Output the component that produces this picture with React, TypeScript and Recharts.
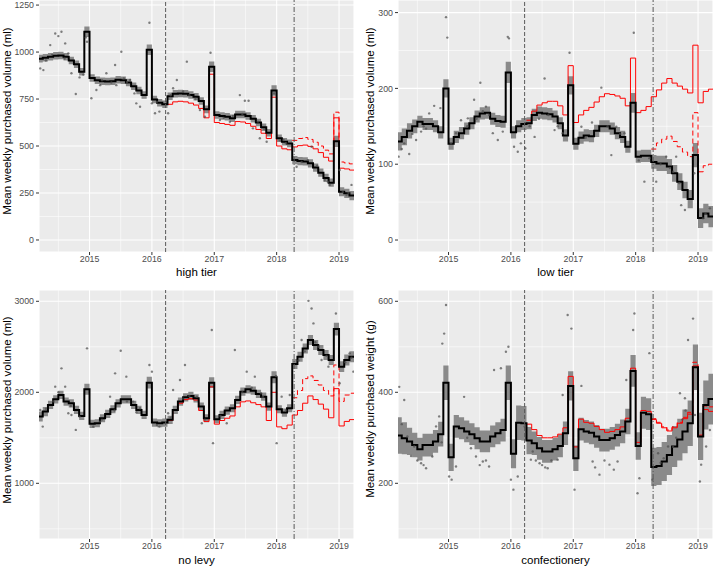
import React from 'react';
import { ComposedChart, Line, Area, Scatter, XAxis, YAxis, CartesianGrid, ReferenceLine } from 'recharts';

// ---- time axis (monthly periods, Mar 2014 .. Mar 2019) ----
const monthStarts: number[] = Array.from({ length: 61 }, (_, i) => 2014 + (2 + i) / 12);
const xEnd = 2019.25;
const xDomain: [number, number] = [2014.19, 2019.24];
const announcement = 2016.22;
const implementation = 2018.28;
const yearTicks = [2015, 2016, 2017, 2018, 2019];
const yearMinor = [2014.5, 2015.5, 2016.5, 2017.5, 2018.5];

const nulls = (n: number) => Array(n).fill(null);

// ---- high tier ----
const highFit = [965, 970, 975, 980, 982, 975, 955, 935, 895, 1108,
  862, 850, 845, 843, 845, 852, 850, 838, 818, 795, 772, 1012,
  748, 730, 722, 765, 778, 780, 778, 772, 762, 740, 695, 922,
  665, 660, 656, 648, 668, 668, 660, 645, 625, 600, 570, 795,
  541, 523, 514, 425, 420, 418, 408, 385, 358, 330, 305, 525,
  257, 248, 236];
const highSe = [20, 20, 20, 20, 20, 20, 20, 20, 20, 28,
  20, 20, 20, 20, 20, 20, 20, 20, 20, 20, 20, 28,
  20, 20, 20, 20, 20, 20, 20, 20, 20, 20, 20, 28,
  20, 20, 20, 20, 20, 20, 20, 20, 20, 20, 20, 28,
  20, 20, 20, 22, 22, 22, 22, 22, 22, 22, 22, 30,
  24, 24, 24];
const highCf = [...nulls(25), 722, 735, 738, 735, 728, 718, 700, 650, 882,
  625, 620, 615, 610, 630, 628, 620, 605, 588, 568, 540, 760,
  500, 485, 480, 495, 502, 505, 498, 485, 465, 440, 420, 650,
  382, 378, 372];
const highCf2 = [...nulls(49), 530, 540, 545, 535, 520, 500, 478, 458, 680, 415, 410, 405];
const highDots = [[2014.21, 913], [2014.26, 904], [2014.37, 1037], [2014.45, 1099], [2014.5, 1085], [2014.55, 1108],
  [2014.61, 1046], [2014.66, 993], [2014.71, 887], [2014.78, 777], [2014.84, 865], [2014.94, 1078], [2014.96, 1055],
  [2015.03, 754], [2015.11, 798], [2015.17, 824], [2015.27, 887], [2015.41, 931], [2015.43, 824], [2015.51, 1002],
  [2015.65, 851], [2015.72, 780], [2015.75, 727], [2015.81, 709], [2015.96, 1156], [2016.0, 727], [2016.05, 674],
  [2016.12, 683], [2016.26, 674], [2016.34, 807], [2016.4, 851], [2016.56, 949], [2016.77, 691], [2016.85, 656],
  [2016.94, 996], [2017.09, 638], [2017.25, 629], [2017.41, 771], [2017.49, 741], [2017.55, 741], [2017.62, 594],
  [2017.73, 541], [2017.84, 523], [2017.96, 780], [2018.11, 532], [2018.32, 390], [2018.56, 496], [2018.77, 319],
  [2018.85, 293], [2019.01, 372], [2019.12, 239], [2019.2, 293],
  [2014.3, 955], [2014.4, 985], [2014.6, 965], [2014.9, 880], [2015.2, 850], [2015.35, 838], [2015.55, 860],
  [2015.6, 840], [2016.08, 735], [2016.3, 770], [2016.5, 790], [2016.6, 770], [2016.7, 750], [2017.15, 650],
  [2017.3, 660], [2017.45, 670], [2017.7, 630], [2017.8, 590], [2018.05, 530], [2018.15, 515], [2018.4, 415],
  [2018.5, 425], [2018.65, 395], [2018.82, 310], [2019.15, 250], [2019.06, 255]];

// ---- low tier ----
const lowFit = [130, 136, 144, 150, 156, 153, 153, 150, 142, 200,
  127, 136, 141, 147, 154, 163, 167, 168, 160, 157, 156, 221,
  142, 150, 153, 154, 165, 168, 167, 166, 163, 154, 138, 204,
  127, 135, 138, 137, 144, 150, 150, 147, 141, 136, 123, 181,
  110, 111, 111, 103, 101, 101, 97, 88, 77, 66, 54, 112,
  29, 35, 31];
const lowSe = [12, 11, 10, 9, 8, 8, 8, 8, 8, 12,
  8, 8, 8, 8, 8, 8, 8, 8, 8, 8, 8, 14,
  8, 8, 8, 8, 8, 8, 8, 8, 8, 8, 8, 12,
  8, 8, 8, 8, 8, 8, 8, 8, 8, 8, 8, 13,
  8, 8, 8, 9, 10, 10, 10, 11, 11, 11, 12, 16,
  13, 13, 14];
const lowCf = [...nulls(25), 158, 170, 178, 181, 183, 183, 177, 165, 230,
  155, 165, 171, 175, 182, 189, 193, 192, 190, 187, 177, 240,
  168, 171, 176, 189, 198, 207, 213, 207, 203, 199, 194, 257,
  181, 196, 199];
const lowCf2 = [...nulls(49), 120, 128, 133, 137, 130, 123, 116, 110, 168, 90, 98, 100];
const lowDots = [[2014.2, 110], [2014.29, 127.5], [2014.37, 113.5], [2014.48, 132], [2014.56, 143], [2014.64, 147],
  [2014.69, 167], [2014.77, 177], [2014.87, 174], [2014.96, 294], [2014.98, 267], [2015.04, 127.5], [2015.12, 141],
  [2015.2, 158], [2015.31, 160.5], [2015.41, 185], [2015.51, 207.5], [2015.6, 176], [2015.71, 141], [2015.79, 132],
  [2015.87, 143], [2015.95, 268], [2015.97, 266], [2016.05, 123], [2016.11, 116.5], [2016.16, 127.5], [2016.23, 121],
  [2016.38, 136], [2016.54, 213], [2016.7, 145], [2016.83, 141], [2016.94, 247], [2017.13, 149.5], [2017.3, 155],
  [2017.45, 201], [2017.61, 112], [2017.69, 149.5], [2017.82, 141], [2017.97, 273.5], [2018.14, 77], [2018.22, 108],
  [2018.33, 77], [2018.49, 110], [2018.65, 110], [2018.73, 46], [2018.79, 39.6], [2018.94, 88], [2019.08, 28.6],
  [2019.19, 41.8],
  [2014.25, 120], [2014.42, 140], [2014.6, 150], [2015.3, 150], [2015.45, 160], [2015.55, 170], [2015.65, 165],
  [2016.3, 150], [2016.45, 160], [2016.6, 165], [2016.75, 150], [2017.2, 135], [2017.55, 150], [2017.75, 140],
  [2018.05, 105], [2018.4, 100], [2018.55, 95], [2018.6, 90], [2018.7, 75], [2019.12, 35]];

// ---- no levy ----
const noFit = [1733, 1788, 1861, 1923, 1971, 1898, 1879, 1806, 1740, 2033,
  1653, 1660, 1715, 1762, 1814, 1879, 1923, 1923, 1861, 1806, 1751, 2106,
  1667, 1660, 1667, 1697, 1806, 1898, 1945, 1960, 1934, 1843, 1715, 2106,
  1704, 1751, 1799, 1825, 1916, 2007, 2033, 2018, 1982, 1952, 1843, 2165,
  1814, 1777, 1825, 2311, 2391, 2482, 2574, 2519, 2464, 2410, 2355, 2695,
  2282, 2355, 2391];
const noSe = [55, 50, 45, 45, 45, 45, 45, 45, 45, 60,
  45, 45, 45, 45, 45, 45, 45, 45, 45, 45, 45, 65,
  45, 45, 45, 45, 45, 45, 45, 45, 45, 45, 45, 60,
  45, 45, 45, 45, 45, 45, 45, 45, 45, 45, 45, 65,
  45, 45, 45, 55, 55, 55, 55, 55, 55, 55, 55, 70,
  60, 60, 60];
const noCf = [...nulls(25), 1690, 1800, 1880, 1920, 1930, 1915, 1800, 1680, 2060,
  1650, 1690, 1715, 1740, 1840, 1895, 1905, 1885, 1865, 1840, 1690, 2000,
  1620, 1600, 1640, 1750, 1800, 1880, 1960, 1920, 1870, 1815, 1720, 2040,
  1630, 1680, 1700];
const noCf2 = [...nulls(49), 1940, 2020, 2150, 2180, 2130, 2080, 2020, 1960, 2300, 1900, 1970, 1990];
const noDots = [[2014.21, 1806], [2014.25, 1623], [2014.45, 2062], [2014.55, 2263], [2014.61, 2062], [2014.66, 1770],
  [2014.71, 1751], [2014.78, 1587], [2014.84, 1733], [2014.96, 2483], [2015.06, 1623], [2015.17, 1678], [2015.33, 1952],
  [2015.41, 2208], [2015.5, 2457], [2015.59, 2172], [2015.7, 1898], [2015.81, 1825], [2015.96, 2300], [2016.0, 2227],
  [2016.12, 1623], [2016.26, 1770], [2016.34, 2026], [2016.45, 2135], [2016.53, 2300], [2016.72, 1952], [2016.8, 1660],
  [2016.96, 2684], [2016.98, 1441], [2017.2, 1660], [2017.33, 2464], [2017.52, 2227], [2017.65, 2172], [2017.78, 1952],
  [2017.99, 2179], [2018.0, 1441], [2018.08, 1952], [2018.21, 1971], [2018.4, 2574], [2018.51, 3005], [2018.56, 2921],
  [2018.59, 2757], [2018.67, 2501], [2018.72, 2355], [2018.83, 2282], [2018.95, 2866], [2019.01, 2099], [2019.17, 2428],
  [2019.23, 2227],
  [2014.3, 1820], [2014.42, 1900], [2014.5, 2000], [2014.7, 1850], [2015.2, 1700], [2015.4, 1800], [2015.6, 1900],
  [2015.75, 1780], [2016.08, 1640], [2016.3, 1720], [2016.5, 1930], [2016.6, 1960], [2016.85, 1700], [2017.1, 1740],
  [2017.45, 2000], [2017.6, 2050], [2017.75, 1990], [2018.15, 1800], [2018.35, 2350], [2018.45, 2450], [2018.62, 2550],
  [2018.8, 2400], [2019.1, 2330], [2019.2, 2380]];

// ---- confectionery ----
const confFit = [305, 299, 292, 284, 275, 284, 284, 292, 308, 421,
  257, 325, 321, 314, 308, 299, 292, 292, 303, 310, 317, 421,
  265, 333, 332, 294, 288, 277, 270, 270, 275, 282, 310, 414,
  255, 319, 314, 311, 303, 295, 295, 299, 306, 314, 336, 447,
  282, 355, 352, 236, 238, 248, 262, 281, 296, 314, 332, 455,
  303, 372, 385];
const confSe = [40, 35, 30, 27, 25, 25, 25, 25, 27, 38,
  30, 25, 24, 24, 24, 24, 24, 24, 24, 24, 25, 38,
  32, 38, 38, 30, 26, 25, 25, 25, 25, 25, 26, 32,
  28, 25, 25, 25, 25, 25, 25, 25, 25, 26, 28, 35,
  30, 35, 35, 42, 42, 43, 44, 45, 46, 48, 50, 50,
  52, 54, 56];
const confCf = [...nulls(25), 330, 318, 305, 300, 300, 302, 308, 322, 435,
  280, 341, 334, 332, 325, 318, 312, 314, 318, 324, 343, 453,
  290, 360, 358, 340, 332, 322, 315, 322, 332, 342, 352, 458,
  303, 362, 358];
const confCf2 = [...nulls(49), 342, 334, 324, 317, 324, 334, 345, 356, 466, 306, 370, 368];
const confDots = [[2014.21, 412], [2014.29, 383], [2014.34, 303], [2014.45, 281], [2014.56, 244], [2014.64, 233],
  [2014.74, 259], [2014.8, 325], [2014.85, 347], [2014.89, 290], [2014.9, 507], [2014.93, 529], [2014.96, 592],
  [2015.01, 215], [2015.05, 208], [2015.12, 237], [2015.25, 390], [2015.36, 277], [2015.44, 259], [2015.55, 248],
  [2015.65, 237], [2015.73, 449], [2015.84, 453], [2015.92, 489], [2015.96, 500], [2016.0, 208], [2016.04, 186],
  [2016.11, 215], [2016.22, 325], [2016.32, 252], [2016.46, 244], [2016.59, 233], [2016.75, 252], [2016.83, 394],
  [2016.91, 570], [2016.97, 540], [2017.02, 186], [2017.13, 414], [2017.31, 248], [2017.42, 219], [2017.58, 241],
  [2017.71, 248], [2017.85, 427], [2017.96, 537], [2017.98, 573], [2018.03, 178], [2018.06, 211], [2018.22, 486],
  [2018.27, 208], [2018.36, 266], [2018.52, 281], [2018.71, 398], [2018.79, 387], [2018.84, 515], [2018.92, 562],
  [2018.95, 350], [2019.03, 204], [2019.05, 241], [2019.13, 281], [2019.19, 317],
  [2014.25, 330], [2014.4, 260], [2014.5, 250], [2014.6, 240], [2015.3, 300], [2015.5, 240], [2015.6, 250],
  [2016.35, 270], [2016.4, 250], [2016.5, 240], [2016.55, 235], [2016.65, 250], [2017.35, 235], [2017.5, 250],
  [2017.65, 230], [2018.4, 245], [2018.45, 255], [2018.6, 280], [2018.65, 300], [2018.75, 340], [2018.8, 360]];

// ---- axis ticks ----
const highTicks = [0, 250, 500, 750, 1000, 1250];
const highMinor = [125, 375, 625, 875, 1125];
const lowTicks = [0, 100, 200, 300];
const lowMinor = [50, 150, 250];
const noTicks = [1000, 2000, 3000];
const noMinor = [500, 1500, 2500];
const confTicks = [200, 400, 600];
const confMinor = [100, 300, 500];

const FONT = '"Liberation Sans", Arial, Helvetica, sans-serif';

function buildRows(fit: number[], se: number[], cf: (number | null)[], cf2: (number | null)[]) {
  const rows: any[] = monthStarts.map((x, i) => ({
    x,
    fit: fit[i],
    band: [fit[i] - se[i], fit[i] + se[i]],
    cf: cf[i],
    cf2: cf2[i],
  }));
  rows.push({ ...rows[rows.length - 1], x: xEnd });
  return rows;
}

const Dot = (p: any) => (
  <circle cx={p.cx} cy={p.cy} r={1.2} fill="#4D4D4D" fillOpacity={0.7} />
);

type PanelProps = {
  left: number; top: number; width: number; height: number; yAxisWidth: number;
  yDomain: [number, number]; yTicks: number[]; yMinor: number[];
  fit: number[]; se: number[]; cf: (number | null)[]; cf2: (number | null)[];
  dots: number[][];
};

function Panel(p: PanelProps) {
  const rows = buildRows(p.fit, p.se, p.cf, p.cf2);
  const dots = p.dots.map(([x, y]) => ({ x, y }));
  const tickStyle = { fontSize: 8.8, fill: '#4D4D4D', fontFamily: FONT };
  return (
    <div style={{ position: 'absolute', left: p.left, top: p.top }}>
      <ComposedChart width={p.width} height={p.height} data={rows} margin={{ top: 0, right: 0, bottom: 0, left: 0 }}>
        <CartesianGrid fill="#EBEBEB" fillOpacity={1} stroke="#FFFFFF" strokeWidth={1.1} />
        <CartesianGrid stroke="#FFFFFF" strokeWidth={0.55} horizontalValues={p.yMinor} verticalValues={yearMinor} />
        <XAxis type="number" dataKey="x" domain={xDomain} allowDataOverflow ticks={yearTicks}
          tickFormatter={(v: number) => String(v)} axisLine={false} tickSize={3} tickMargin={1}
          tickLine={{ stroke: '#333333' }} tick={tickStyle} height={20} interval={0} />
        <YAxis type="number" domain={p.yDomain} allowDataOverflow ticks={p.yTicks} axisLine={false}
          tickSize={3} tickMargin={2} tickLine={{ stroke: '#333333' }} tick={tickStyle}
          width={p.yAxisWidth} interval={0} />
        <Area dataKey="band" type="stepAfter" fill="#8A8A8A" fillOpacity={1} stroke="none" isAnimationActive={false} />
        <Scatter data={dots} dataKey="y" shape={Dot} isAnimationActive={false} />
        <Line dataKey="cf" type="stepAfter" stroke="#FF0000" strokeWidth={1} dot={false} isAnimationActive={false} />
        <Line dataKey="cf2" type="stepAfter" stroke="#FF0000" strokeWidth={1} strokeDasharray="5 3" dot={false} isAnimationActive={false} />
        <Line dataKey="fit" type="stepAfter" stroke="#000000" strokeWidth={2} dot={false} isAnimationActive={false} />
        <ReferenceLine x={announcement} stroke="#595959" strokeWidth={1} strokeDasharray="4 2" />
        <ReferenceLine x={implementation} stroke="#595959" strokeWidth={1} strokeDasharray="5 2 1 2" />
      </ComposedChart>
    </div>
  );
}

const titleBase: React.CSSProperties = {
  position: 'absolute', fontSize: 11.5, lineHeight: 1, color: '#000', whiteSpace: 'nowrap', fontFamily: FONT,
};

function XTitle({ x, y, text }: { x: number; y: number; text: string }) {
  return <div style={{ ...titleBase, left: x, top: y, transform: 'translate(-50%, -50%)' }}>{text}</div>;
}
function YTitle({ x, y, text }: { x: number; y: number; text: string }) {
  return <div style={{ ...titleBase, left: x, top: y, transform: 'translate(-50%, -50%) rotate(-90deg)' }}>{text}</div>;
}

export default function App() {
  return (
    <div style={{ position: 'absolute', left: 0, top: 0, width: 713, height: 567, background: '#FFFFFF', fontFamily: FONT, overflow: 'hidden' }}>
      <Panel left={0} top={0} width={354} height={272} yAxisWidth={39} yDomain={[-64, 1277]}
        yTicks={highTicks} yMinor={highMinor} fit={highFit} se={highSe} cf={highCf} cf2={highCf2} dots={highDots} />
      <Panel left={355} top={0} width={358} height={272} yAxisWidth={43} yDomain={[-15.8, 316.6]}
        yTicks={lowTicks} yMinor={lowMinor} fit={lowFit} se={lowSe} cf={lowCf} cf2={lowCf2} dots={lowDots} />
      <Panel left={0} top={290} width={354} height={269} yAxisWidth={39} yDomain={[388, 3124]}
        yTicks={noTicks} yMinor={noMinor} fit={noFit} se={noSe} cf={noCf} cf2={noCf2} dots={noDots} />
      <Panel left={355} top={290} width={358} height={269} yAxisWidth={43} yDomain={[77.6, 624.8]}
        yTicks={confTicks} yMinor={confMinor} fit={confFit} se={confSe} cf={confCf} cf2={confCf2} dots={confDots} />

      <YTitle x={8} y={121} text="Mean weekly purchased volume (ml)" />
      <YTitle x={371} y={121} text="Mean weekly purchased volume (ml)" />
      <YTitle x={8} y={410} text="Mean weekly purchased volume (ml)" />
      <YTitle x={371} y={409} text="Mean weekly purchased weight (g)" />

      <XTitle x={196.5} y={273} text="high tier" />
      <XTitle x={555.5} y={273} text="low tier" />
      <XTitle x={196.5} y={561} text="no levy" />
      <XTitle x={555.5} y={561} text="confectionery" />
    </div>
  );
}
